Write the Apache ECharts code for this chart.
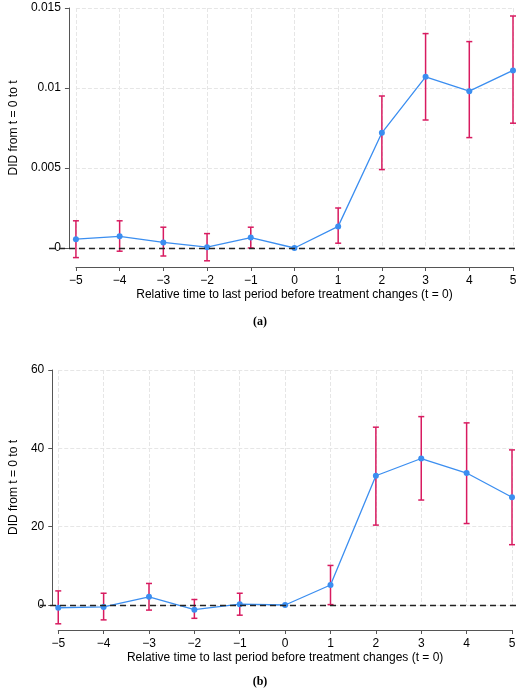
<!DOCTYPE html>
<html><head><meta charset="utf-8">
<script src="https://cdn.jsdelivr.net/npm/echarts@6/dist/echarts.min.js"></script>
<style>html,body{margin:0;background:#fff}#c{width:520px;height:689px}</style>
</head><body><div id="c"></div>
<script>
const periods = [-5, -4, -3, -2, -1, 0, 1, 2, 3, 4, 5];
// panel (a)
const estA = [0.00055, 0.00073, 0.00035, 0.00005, 0.00065, 0, 0.00135, 0.0072, 0.0107, 0.0098, 0.0111];
const loA = [-0.0006, -0.0002, -0.0005, -0.0008, 0.0000, null, 0.0003, 0.0049, 0.0080, 0.0069, 0.0078];
const hiA = [0.0017, 0.0017, 0.0013, 0.0009, 0.0013, null, 0.0025, 0.0095, 0.0134, 0.0129, 0.0145];
const yTicksA = [0, 0.005, 0.01, 0.015];
// panel (b)
const estB = [-0.7, -0.5, 2.1, -1.2, 0.2, 0, 5.1, 33.0, 37.4, 33.7, 27.5];
const loB = [-4.8, -3.8, -1.3, -3.4, -2.6, null, 0.1, 20.4, 26.8, 20.8, 15.4];
const hiB = [3.6, 3.0, 5.5, 1.4, 3.0, null, 10.1, 45.4, 48.1, 46.5, 39.6];
const yTicksB = [0, 20, 40, 60];

const FONT = 'Liberation Sans';
const BLUE = '#3b8ef0', RED = '#d81b60';
const chart = echarts.init(document.getElementById('c'));

function xAxis(idx, offset) {
  return {
    gridIndex: idx, type: 'value', min: -5, max: 5, interval: 1, offset: offset,
    name: 'Relative time to last period before treatment changes (t = 0)',
    nameLocation: 'middle', nameGap: 22,
    nameTextStyle: { fontFamily: FONT, fontSize: 12, color: '#000' },
    axisLine: { onZero: false, lineStyle: { color: '#555' } },
    axisTick: { lineStyle: { color: '#555' }, length: 4 },
    axisLabel: { fontFamily: FONT, fontSize: 12, color: '#000', formatter: v => String(v).replace('-', '\u2212') },
    splitLine: { show: true, lineStyle: { color: '#e6e6e6', type: 'dashed' } }
  };
}
function yAxis(idx, max, interval, offset, fmt) {
  return {
    gridIndex: idx, type: 'value', min: 0, max: max, interval: interval, offset: offset,
    name: 'DID from t = 0 to t', nameLocation: 'middle', nameGap: idx ? 27 : 40,
    nameTextStyle: { fontFamily: FONT, fontSize: 12, color: '#000' },
    axisLine: { show: true, onZero: false, lineStyle: { color: '#555' } },
    axisTick: { show: true, lineStyle: { color: '#555' }, length: 4 },
    axisLabel: { fontFamily: FONT, fontSize: 12, color: '#000', formatter: fmt },
    splitLine: { show: true, lineStyle: { color: '#e6e6e6', type: 'dashed' } }
  };
}
function errorSeries(idx, lo, hi) {
  const data = periods.map((p, i) => [p, lo[i], hi[i]]).filter(d => d[1] !== null);
  return {
    type: 'custom', xAxisIndex: idx, yAxisIndex: idx, data: data, z: 3,
    renderItem: (params, api) => {
      const a = api.coord([api.value(0), api.value(1)]);
      const b = api.coord([api.value(0), api.value(2)]);
      const w = 3, st = { stroke: RED, lineWidth: 1.5 };
      return { type: 'group', children: [
        { type: 'line', shape: { x1: a[0], y1: a[1], x2: b[0], y2: b[1] }, style: st },
        { type: 'line', shape: { x1: a[0] - w, y1: a[1], x2: a[0] + w, y2: a[1] }, style: st },
        { type: 'line', shape: { x1: b[0] - w, y1: b[1], x2: b[0] + w, y2: b[1] }, style: st }
      ] };
    }
  };
}
function lineSeries(idx, est) {
  return {
    type: 'line', xAxisIndex: idx, yAxisIndex: idx, z: 4,
    data: periods.map((p, i) => [p, est[i]]),
    symbol: 'circle', symbolSize: 6, clip: false,
    lineStyle: { color: BLUE, width: 1.3 }, itemStyle: { color: BLUE },
    markLine: { silent: true, symbol: 'none', label: { show: false },
      lineStyle: { color: '#222', type: [6, 4], width: 1.3 },
      data: [[{ coord: [-5, 0], x: idx ? 40 : 49 }, { coord: [5, 0], x: 519 }]] }
  };
}

chart.setOption({
  animation: false,
  grid: [
    { left: 56, right: 7, top: 8, height: 240 },
    { left: 46, right: 8, top: 370, height: 235 }
  ],
  xAxis: [xAxis(0, 19), xAxis(1, 25)],
  yAxis: [
    yAxis(0, 0.015, 0.005, 7, v => String(v)),
    yAxis(1, 60, 20, 6, v => String(v))
  ],
  graphic: [
    { type: 'text', left: 'center', top: 316, style: { text: '(a)', font: 'bold 12px "Liberation Serif"', fill: '#000' } },
    { type: 'text', left: 'center', top: 676, style: { text: '(b)', font: 'bold 12px "Liberation Serif"', fill: '#000' } }
  ],
  series: [
    errorSeries(0, loA, hiA), lineSeries(0, estA),
    errorSeries(1, loB, hiB), lineSeries(1, estB)
  ]
});
</script></body></html>
